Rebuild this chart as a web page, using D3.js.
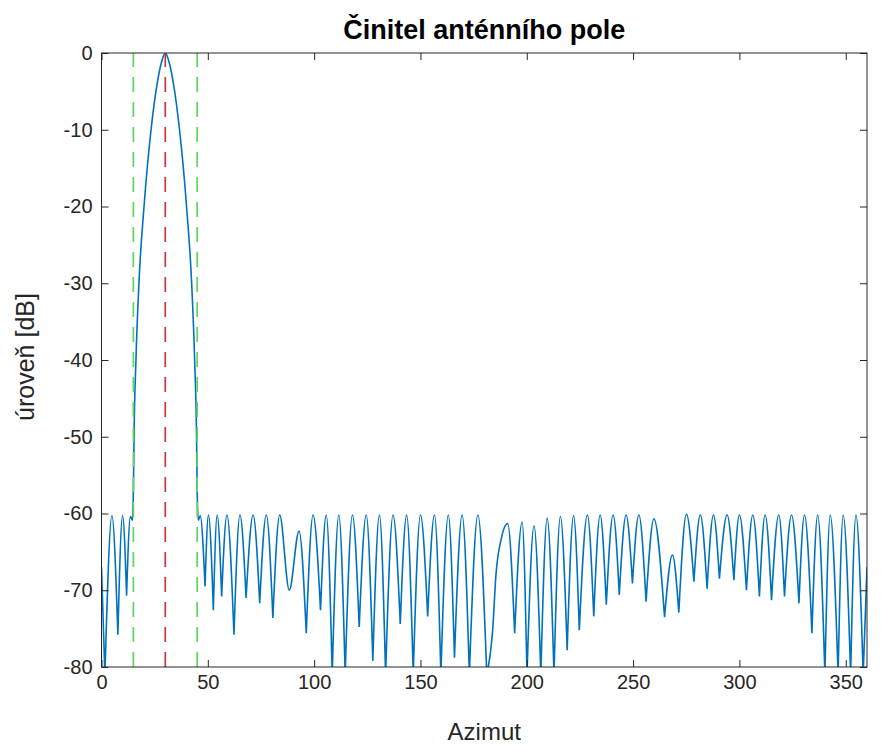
<!DOCTYPE html>
<html>
<head>
<meta charset="utf-8">
<script src="https://cdn.jsdelivr.net/npm/d3@7"></script>
<style>
  body { margin: 0; background: #fff; }
  text { font-family: "Liberation Sans", Arial, Helvetica, sans-serif; fill: #262626; }
</style>
</head>
<body>
<div id="chart"></div>
<script>
// cusps (nulls) of the array factor, plus the two ends of the azimuth range;
// nulls that fall off the bottom of the axes are given as -81
const nullAz = [0, 1.6, 7.7, 11.8, 48.7, 52.6, 56.5, 62.3, 68.0, 74.4, 80.6, 96.3, 103.0,
  108.5, 114.6, 121.2, 127.6, 133.6, 140.5, 146.6, 153.4, 159.6, 166.0, 173.0, 181.2,
  194.3, 200.1, 206.6, 212.8, 219.0, 224.7, 231.5, 237.4, 243.5, 249.7, 256.1, 264.8,
  271.5, 278.6, 284.8, 290.6, 297.4, 303.3, 309.4, 315.1, 321.2, 328.0, 334.1, 340.2,
  346.4, 352.3, 358.2, 360];
const nullDb = [-67, -81, -75.8, -70.7, -69.5, -72.6, -70.8, -75.8, -71.0, -71.7, -73.6, -75.6, -72.6,
  -81, -81, -74.8, -79.2, -81, -74.4, -81, -73.4, -81, -78.8, -81, -81,
  -75.6, -81, -81, -81, -77.8, -75.2, -73.4, -71.9, -70.6, -69.1, -71.5, -73.5,
  -72.9, -68.9, -69.8, -68.5, -68.7, -70.0, -70.8, -71.3, -70.8, -71.7, -75.6, -81,
  -81, -81, -81, -67];

// lobe tops and other points read between the nulls (main lobe included)
const peakAz = [4.9, 9.9, 13.6, 14.6, 15.0, 15.3, 16.2, 17.6, 20.0, 23.3, 25.6, 28.4, 30,
  31.6, 34.4, 36.7, 40.0, 42.4, 43.8, 44.7, 45.0, 45.5, 46.4,
  50.3, 54.4, 59.0, 65.1, 71.3, 77.5, 83.8, 88.3, 92.9, 99.5, 105.7, 111.6, 118.0,
  124.5, 130.7, 137.1, 143.5, 150.0, 156.6, 163.1, 169.6, 177.0, 184.0, 185.5, 188.0,
  191.0, 197.8, 203.4, 209.6, 215.8, 222.0, 228.5, 234.5, 240.6, 246.7, 252.7, 259.8,
  268.5, 275.1, 281.6, 287.8, 294.2, 300.0, 306.3, 312.1, 318.5, 324.5, 330.6, 336.8,
  342.7, 348.8, 354.8];
const peakDb = [-60.3, -60.3, -60.4, -60.9, -57, -50, -40, -30, -20, -10, -5, -1, 0,
  -1, -5, -10, -20, -30, -40, -50, -57, -60.9, -60.3,
  -60.2, -60.2, -60.2, -60.2, -60.2, -60.2, -60.2, -70.0, -62.3, -60.2, -60.2, -60.2, -60.2,
  -60.2, -60.2, -60.2, -60.2, -60.2, -60.2, -60.2, -60.2, -60.2, -75, -68, -63.3,
  -61.3, -61.1, -61.6, -60.6, -60.4, -60.3, -60.2, -60.2, -60.2, -60.2, -60.2, -60.7,
  -65.4, -60.1, -60.2, -60.2, -60.2, -60.2, -60.2, -60.2, -60.2, -60.2, -60.2, -60.2,
  -60.2, -60.2, -60.2];

const steerAz = 30;
const edgeAz = [15, 45];
const xTicks = [0, 50, 100, 150, 200, 250, 300, 350];
const yTicks = [-80, -70, -60, -50, -40, -30, -20, -10, 0];

const width = 883;
const height = 747;
const margin = {top: 53, right: 16, bottom: 80, left: 101.5};
const innerW = width - margin.left - margin.right;
const innerH = height - margin.top - margin.bottom;

const svg = d3.select("#chart")
    .append("svg")
    .attr("width", width)
    .attr("height", height);

const x = d3.scaleLinear().domain([0, 360]).range([0, innerW]);
const y = d3.scaleLinear().domain([-80, 0]).range([innerH, 0]);

const g = svg.append("g")
    .attr("transform", `translate(${margin.left},${margin.top})`);

svg.append("defs").append("clipPath")
    .attr("id", "plot-clip")
    .append("rect")
    .attr("width", innerW)
    .attr("height", innerH);

// build one lobe per pair of neighbouring nulls
const points = peakAz.map((a, i) => [a, peakDb[i]]);
const lobes = d3.pairs(nullAz.map((a, i) => [a, nullDb[i]])).map(([l, r]) =>
    [l, ...points.filter(p => p[0] > l[0] && p[0] < r[0]), r]);

const line = d3.line()
    .x(d => x(d[0]))
    .y(d => y(d[1]))
    .curve(d3.curveMonotoneX);

const plot = g.append("g").attr("clip-path", "url(#plot-clip)");

plot.append("path")
    .attr("d", lobes.map(l => line(l)).join(""))
    .attr("fill", "none")
    .attr("stroke", "#0072BD")
    .attr("stroke-width", 1.6)
    .attr("stroke-linejoin", "round");

// beam limits and steering direction
plot.selectAll("line.edge")
    .data(edgeAz)
    .join("line")
    .attr("class", "edge")
    .attr("x1", d => x(d)).attr("x2", d => x(d))
    .attr("y1", innerH).attr("y2", 0)
    .attr("stroke", "#5ed65e")
    .attr("stroke-width", 1.7)
    .attr("stroke-dasharray", "15,10");

plot.append("line")
    .attr("x1", x(steerAz)).attr("x2", x(steerAz))
    .attr("y1", innerH).attr("y2", 0)
    .attr("stroke", "#c8363c")
    .attr("stroke-width", 1.7)
    .attr("stroke-dasharray", "15,10");

// axes, MATLAB style: box with inward ticks
const tickLen = 7;
const fmt = d => String(d);
g.append("g")
    .attr("transform", `translate(0,${innerH})`)
    .call(d3.axisBottom(x).tickValues(xTicks).tickFormat(fmt)
        .tickSizeInner(-tickLen).tickSizeOuter(0).tickPadding(8));
g.append("g")
    .call(d3.axisLeft(y).tickValues(yTicks).tickFormat(fmt)
        .tickSizeInner(-tickLen).tickSizeOuter(0).tickPadding(9));
g.append("g")
    .call(d3.axisTop(x).tickValues(xTicks).tickSizeInner(-tickLen).tickSizeOuter(0).tickFormat(""));
g.append("g")
    .attr("transform", `translate(${innerW},0)`)
    .call(d3.axisRight(y).tickValues(yTicks).tickSizeInner(-tickLen).tickSizeOuter(0).tickFormat(""));

g.selectAll(".domain").remove();
g.selectAll(".tick line").attr("stroke", "#262626");
g.selectAll(".tick text")
    .style("font-size", "20px")
    .attr("fill", "#262626");

g.append("rect")
    .attr("width", innerW)
    .attr("height", innerH)
    .attr("fill", "none")
    .attr("stroke", "#262626")
    .attr("stroke-width", 1);

svg.append("text")
    .attr("x", margin.left + innerW / 2)
    .attr("y", 39)
    .attr("text-anchor", "middle")
    .style("font-size", "27px")
    .style("font-weight", 700)
    .style("fill", "#000")
    .text("Činitel anténního pole");

svg.append("text")
    .attr("x", margin.left + innerW / 2)
    .attr("y", 740)
    .attr("text-anchor", "middle")
    .style("font-size", "24px")
    .text("Azimut");

svg.append("text")
    .attr("transform", `translate(34,${margin.top + innerH / 2 - 3}) rotate(-90)`)
    .attr("text-anchor", "middle")
    .style("font-size", "25px")
    .text("úroveň [dB]");
</script>
</body>
</html>
